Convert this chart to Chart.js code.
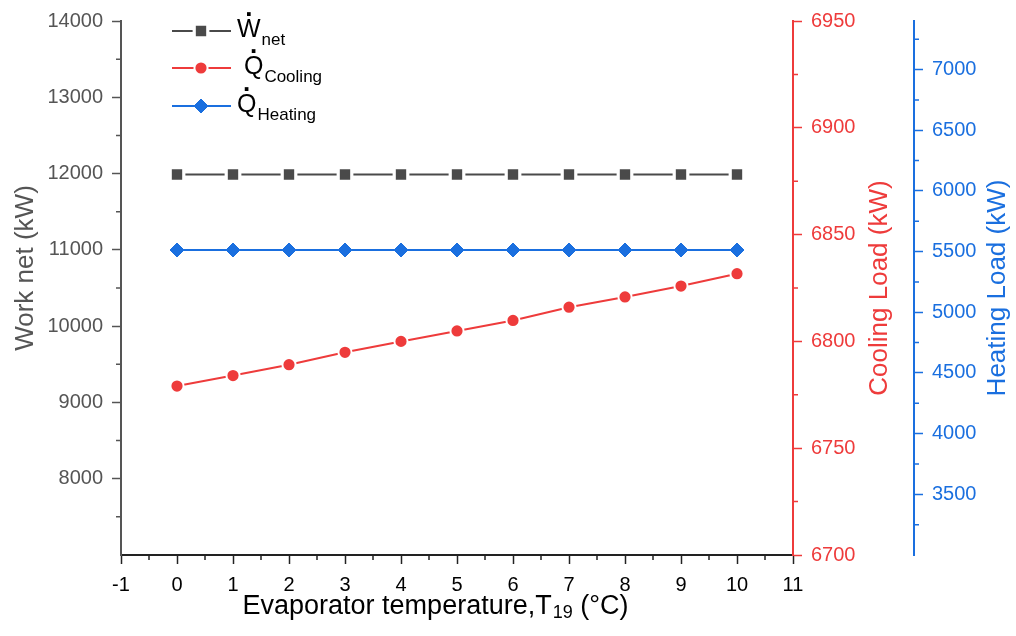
<!DOCTYPE html>
<html>
<head>
<meta charset="utf-8">
<title>Evaporator temperature sweep</title>
<script src="https://cdn.jsdelivr.net/npm/chart.js@4.4.1/dist/chart.umd.min.js"></script>
<style>
  html, body { margin: 0; padding: 0; background: #fff; }
  canvas { display: block; }
</style>
</head>
<body>
<canvas id="chart" width="1016" height="636"></canvas>
<script>
// Evaporator temperature T19 (°C)
var temps = [0, 1, 2, 3, 4, 5, 6, 7, 8, 9, 10];

// Net work, cooling and heating load (kW)
var workNet = [11987, 11987, 11987, 11987, 11987, 11987, 11987, 11987, 11987, 11987, 11987];
var coolingLoad = [6779.1, 6784.0, 6789.1, 6794.9, 6800.0, 6804.9, 6809.8, 6816.0, 6820.8, 6825.9, 6831.7];
var heatingLoad = [5513, 5513, 5513, 5513, 5513, 5513, 5513, 5513, 5513, 5513, 5513];

// Axis ticks (major labelled, minor unlabelled)
var xTicks = [-1, 0, 1, 2, 3, 4, 5, 6, 7, 8, 9, 10, 11];
var xMinor = [-0.5, 0.5, 1.5, 2.5, 3.5, 4.5, 5.5, 6.5, 7.5, 8.5, 9.5, 10.5];
var workTicks = [8000, 9000, 10000, 11000, 12000, 13000, 14000];
var workMinor = [7500, 8500, 9500, 10500, 11500, 12500, 13500];
var coolTicks = [6700, 6750, 6800, 6850, 6900, 6950];
var coolMinor = [6725, 6775, 6825, 6875, 6925];
var heatTicks = [3500, 4000, 4500, 5000, 5500, 6000, 6500, 7000];
var heatMinor = [3250, 3750, 4250, 4750, 5250, 5750, 6250, 6750, 7250];

var legendItems = [
    { base: 'W', sub: 'net' },
    { base: ' Q', sub: 'Cooling' },
    { base: 'Q', sub: 'Heating' }
];

var FONT = "'Liberation Sans', Arial, Helvetica, sans-serif";
var GREY = '#555555';
var DARK = '#4a4a4a';
var RED = '#ee3b3b';
var BLUE = '#1a6fdf';

Chart.defaults.font.family = FONT;

function points(ys) {
    return temps.map(function(t, i) { return { x: t, y: ys[i] }; });
}

function fixedTicks(list) {
    return function(scale) {
        scale.ticks = list.map(function(v) { return { value: v }; });
    };
}

function axis(color, lineColor, list, extra) {
    var opts = {
        type: 'linear',
        afterBuildTicks: fixedTicks(list),
        border: { display: true, color: lineColor, width: 2 },
        grid: {
            drawOnChartArea: false,
            drawTicks: true,
            tickLength: 9,
            tickColor: lineColor,
            tickWidth: 1.5
        },
        ticks: {
            color: color,
            font: { size: 20 },
            autoSkip: false,
            maxRotation: 0,
            padding: 9,
            callback: function(v) { return String(v); }
        }
    };
    for (var k in extra) opts[k] = extra[k];
    return opts;
}

function minorTicks(ctx, scale, values, color, side) {
    ctx.strokeStyle = color;
    ctx.lineWidth = 1.5;
    ctx.beginPath();
    values.forEach(function(v) {
        var p = scale.getPixelForValue(v);
        if (side === 'bottom') {
            ctx.moveTo(p, scale.top);
            ctx.lineTo(p, scale.top + 5);
        } else if (side === 'left') {
            ctx.moveTo(scale.right, p);
            ctx.lineTo(scale.right - 5, p);
        } else {
            ctx.moveTo(scale.left, p);
            ctx.lineTo(scale.left + 5, p);
        }
    });
    ctx.stroke();
}

function verticalTitle(ctx, text, x, y, color) {
    ctx.save();
    ctx.translate(x, y);
    ctx.rotate(-Math.PI / 2);
    ctx.fillStyle = color;
    ctx.font = '26px ' + FONT;
    ctx.textAlign = 'center';
    ctx.textBaseline = 'middle';
    ctx.fillText(text, 0, 0);
    ctx.restore();
}

function drawLegend(chart) {
    var ctx = chart.ctx;
    var rows = [31, 68, 106];
    legendItems.forEach(function(item, i) {
        var ds = chart.data.datasets[i];
        var y = rows[i];
        ctx.strokeStyle = ds.borderColor;
        ctx.lineWidth = 2;
        ctx.beginPath();
        ctx.moveTo(172, y);
        ctx.lineTo(231, y);
        ctx.stroke();

        ctx.fillStyle = ds.pointBackgroundColor;
        ctx.strokeStyle = ds.pointBorderColor;
        ctx.lineWidth = ds.pointBorderWidth;
        Chart.helpers.drawPoint(ctx, {
            pointStyle: ds.pointStyle,
            radius: ds.pointRadius,
            rotation: 0,
            borderWidth: ds.pointBorderWidth
        }, 201, y);

        var base = y + 6;
        ctx.fillStyle = '#000';
        ctx.textAlign = 'left';
        ctx.textBaseline = 'alphabetic';
        ctx.font = '25px ' + FONT;
        ctx.fillText(item.base, 237, base);
        var w = ctx.measureText(item.base).width;
        var lastW = ctx.measureText(item.base.slice(-1)).width;
        // dot above the symbol (time derivative)
        ctx.textAlign = 'center';
        ctx.font = 'bold 26px ' + FONT;
        ctx.fillText('.', 237 + w - lastW / 2, base - 21);
        ctx.textAlign = 'left';
        ctx.font = '17px ' + FONT;
        ctx.fillText(item.sub, 237 + w + 1, base + 8);
    });
}

var decorations = {
    id: 'decorations',
    afterDraw: function(chart) {
        var ctx = chart.ctx;
        var s = chart.scales;
        var area = chart.chartArea;
        var midY = (area.top + area.bottom) / 2;
        ctx.save();
        minorTicks(ctx, s.x, xMinor, '#222', 'bottom');
        minorTicks(ctx, s.yWork, workMinor, GREY, 'left');
        minorTicks(ctx, s.yCool, coolMinor, RED, 'right');
        minorTicks(ctx, s.yHeat, heatMinor, BLUE, 'right');

        verticalTitle(ctx, 'Work net (kW)', s.yWork.left + 26, midY - 20, GREY);
        verticalTitle(ctx, 'Cooling Load (kW)', s.yCool.left + 87, midY, RED);
        verticalTitle(ctx, 'Heating Load (kW)', s.yHeat.left + 84, midY, BLUE);

        // x title with subscript
        var main1 = 'Evaporator temperature,T', sub = '19', main2 = ' (°C)';
        ctx.fillStyle = '#000';
        ctx.textBaseline = 'alphabetic';
        ctx.textAlign = 'left';
        ctx.font = '27px ' + FONT;
        var w1 = ctx.measureText(main1).width;
        var w3 = ctx.measureText(main2).width;
        ctx.font = '18px ' + FONT;
        var w2 = ctx.measureText(sub).width;
        var cx = (area.left + area.right) / 2 - 22;
        var x0 = cx - (w1 + w2 + w3) / 2;
        var by = s.x.top + 59;
        ctx.font = '27px ' + FONT;
        ctx.fillText(main1, x0, by);
        ctx.font = '18px ' + FONT;
        ctx.fillText(sub, x0 + w1 + 1, by + 4);
        ctx.font = '27px ' + FONT;
        ctx.fillText(main2, x0 + w1 + w2 + 1, by);

        drawLegend(chart);
        ctx.restore();
    }
};

new Chart(document.getElementById('chart'), {
    type: 'line',
    data: {
        datasets: [{
            label: 'W net',
            data: points(workNet),
            yAxisID: 'yWork',
            borderColor: DARK,
            borderWidth: 2,
            pointStyle: 'rect',
            pointRadius: 9.6,
            pointBackgroundColor: DARK,
            pointBorderColor: '#ffffff',
            pointBorderWidth: 3.2
        }, {
            label: 'Q Cooling',
            data: points(coolingLoad),
            yAxisID: 'yCool',
            borderColor: RED,
            borderWidth: 2,
            pointStyle: 'circle',
            pointRadius: 6.6,
            pointBackgroundColor: RED,
            pointBorderColor: '#ffffff',
            pointBorderWidth: 2
        }, {
            label: 'Q Heating',
            data: points(heatingLoad),
            yAxisID: 'yHeat',
            borderColor: BLUE,
            borderWidth: 2,
            pointStyle: 'rectRot',
            pointRadius: 7,
            pointBackgroundColor: BLUE,
            pointBorderColor: BLUE,
            pointBorderWidth: 1
        }]
    },
    options: {
        responsive: false,
        animation: false,
        events: [],
        layout: { padding: { top: 16, right: 0, bottom: 0, left: 0 } },
        plugins: {
            legend: { display: false },
            tooltip: { enabled: false }
        },
        scales: {
            x: axis('#000', '#222', xTicks, {
                position: 'bottom', min: -1, max: 11,
                afterFit: function(scale) { scale.height = 81; }
            }),
            yWork: axis(GREY, GREY, workTicks, {
                position: 'left', min: 7000, max: 14000,
                afterFit: function(scale) { scale.width = 121; }
            }),
            yCool: axis(RED, RED, coolTicks, {
                position: 'right', weight: 0, min: 6700, max: 6950,
                afterFit: function(scale) { scale.width = 121; }
            }),
            yHeat: axis(BLUE, BLUE, heatTicks, {
                position: 'right', weight: 1, min: 3000, max: 7400,
                afterFit: function(scale) { scale.width = 102; }
            })
        }
    },
    plugins: [decorations]
});
</script>
</body>
</html>
